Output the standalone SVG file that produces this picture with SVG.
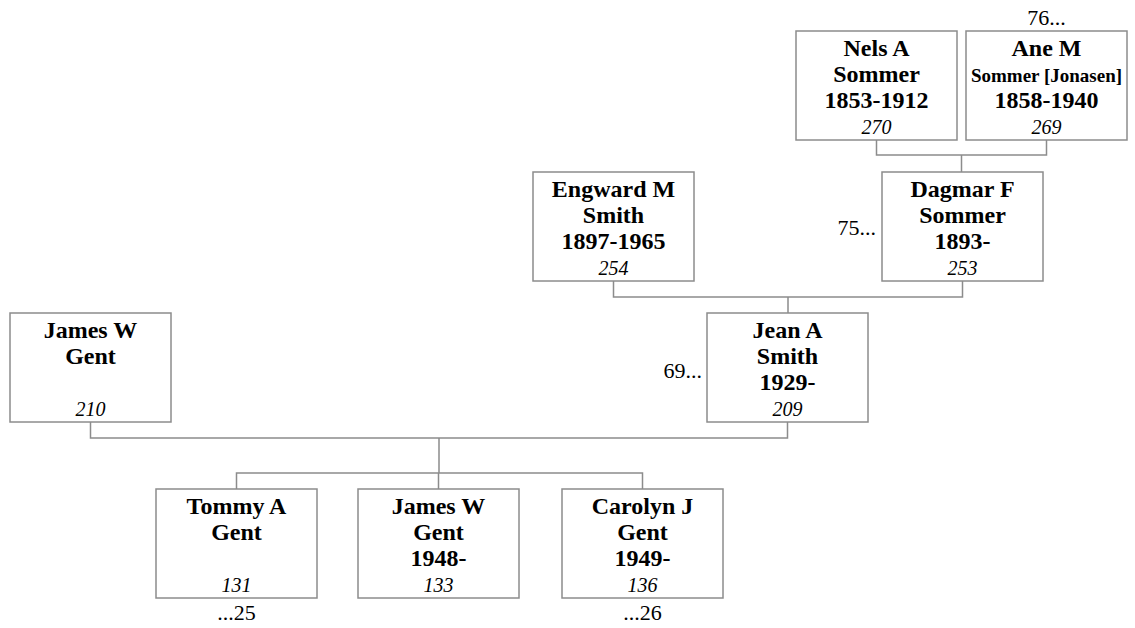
<svg xmlns="http://www.w3.org/2000/svg" width="1135" height="628" viewBox="0 0 1135 628">
<style>
.box{fill:#fff;stroke:#8c8c8c;stroke-width:1.5}
.con{fill:none;stroke:#8c8c8c;stroke-width:1.5}
.n{font-family:"Liberation Serif","Times New Roman",serif;font-weight:bold;font-size:24px;text-anchor:middle;fill:#000}
.sm{font-size:19px}
.id{font-family:"Liberation Serif","Times New Roman",serif;font-style:italic;font-size:20px;text-anchor:middle;fill:#000}
.ref{font-family:"Liberation Serif","Times New Roman",serif;font-size:22px;fill:#000}
</style>
<rect width="1135" height="628" fill="#fff"/>
<g id="connectors">
<path class="con" d="M876.5 140V155H1046.5V140M961.5 155V172"/>
<path class="con" d="M613.5 281V297H962.5V281M788 297V313"/>
<path class="con" d="M90.5 422V438H787.5V422M439 438V473"/>
<path class="con" d="M236.5 489V473H642.5V489M438.5 473V489"/>
</g>
<g id="n270">
<rect class="box" x="796" y="31" width="161" height="109"/>
<text class="n" x="876.5" y="56">Nels A</text>
<text class="n" x="876.5" y="82">Sommer</text>
<text class="n" x="876.5" y="108">1853-1912</text>
<text class="id" x="876.5" y="134">270</text>
</g>
<g id="n269">
<rect class="box" x="966" y="31" width="161" height="109"/>
<text class="n" x="1046.5" y="56">Ane M</text>
<text class="n sm" x="1046.5" y="82">Sommer [Jonasen]</text>
<text class="n" x="1046.5" y="108">1858-1940</text>
<text class="id" x="1046.5" y="134">269</text>
<text class="ref" x="1046.5" y="25" text-anchor="middle">76...</text>
</g>
<g id="n254">
<rect class="box" x="533" y="172" width="161" height="109"/>
<text class="n" x="613.5" y="197">Engward M</text>
<text class="n" x="613.5" y="223">Smith</text>
<text class="n" x="613.5" y="249">1897-1965</text>
<text class="id" x="613.5" y="275">254</text>
</g>
<g id="n253">
<rect class="box" x="882" y="172" width="161" height="109"/>
<text class="n" x="962.5" y="197">Dagmar F</text>
<text class="n" x="962.5" y="223">Sommer</text>
<text class="n" x="962.5" y="249">1893-</text>
<text class="id" x="962.5" y="275">253</text>
<text class="ref" x="876" y="235" text-anchor="end">75...</text>
</g>
<g id="n210">
<rect class="box" x="10" y="313" width="161" height="109"/>
<text class="n" x="90.5" y="338">James W</text>
<text class="n" x="90.5" y="364">Gent</text>
<text class="id" x="90.5" y="416">210</text>
</g>
<g id="n209">
<rect class="box" x="707" y="313" width="161" height="109"/>
<text class="n" x="787.5" y="338">Jean A</text>
<text class="n" x="787.5" y="364">Smith</text>
<text class="n" x="787.5" y="390">1929-</text>
<text class="id" x="787.5" y="416">209</text>
<text class="ref" x="702" y="378" text-anchor="end">69...</text>
</g>
<g id="n131">
<rect class="box" x="156" y="489" width="161" height="109"/>
<text class="n" x="236.5" y="514">Tommy A</text>
<text class="n" x="236.5" y="540">Gent</text>
<text class="id" x="236.5" y="592">131</text>
<text class="ref" x="236.5" y="620" text-anchor="middle">...25</text>
</g>
<g id="n133">
<rect class="box" x="358" y="489" width="161" height="109"/>
<text class="n" x="438.5" y="514">James W</text>
<text class="n" x="438.5" y="540">Gent</text>
<text class="n" x="438.5" y="566">1948-</text>
<text class="id" x="438.5" y="592">133</text>
</g>
<g id="n136">
<rect class="box" x="562" y="489" width="161" height="109"/>
<text class="n" x="642.5" y="514">Carolyn J</text>
<text class="n" x="642.5" y="540">Gent</text>
<text class="n" x="642.5" y="566">1949-</text>
<text class="id" x="642.5" y="592">136</text>
<text class="ref" x="642.5" y="620" text-anchor="middle">...26</text>
</g>
</svg>
